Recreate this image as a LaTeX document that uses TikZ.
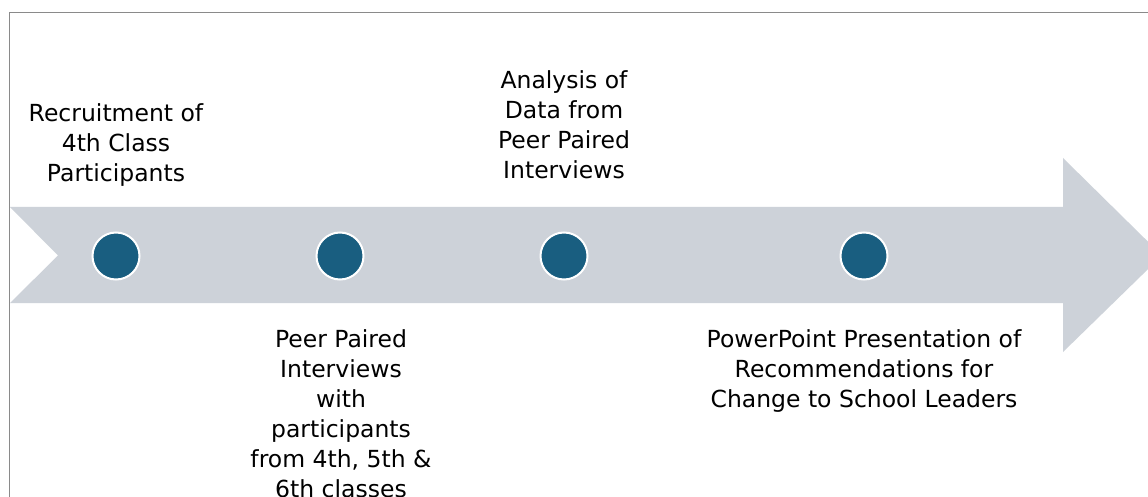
\documentclass[tikz,border=0pt]{standalone}
\usepackage{fontspec}
\setmainfont{DejaVu Sans}
\definecolor{band}{HTML}{CDD2D9}
\definecolor{dot}{HTML}{195E80}
\definecolor{frame}{HTML}{8A8A8A}
\begin{document}
\begin{tikzpicture}[x=1pt,y=-1pt,
  milestone/.style={circle,fill=dot,draw=white,line width=2pt,minimum size=47pt,inner sep=0pt},
  label/.style={align=center,inner sep=0pt,anchor=north,text=black,font=\fontsize{23.5}{30}\selectfont}]
\useasboundingbox (0,0) rectangle (1148,497);
\clip (0,0) rectangle (1148,497);
\fill[white] (0,0) rectangle (1148,497);
\draw[frame,line width=1.3pt] (9.5,520) -- (9.5,12.5) -- (1170,12.5);
\fill[band] (10,207) -- (1063,207) -- (1063,158) -- (1162,255.5) -- (1063,352) -- (1063,303) -- (10,303) -- (58,255.5) -- cycle;
\node[milestone] (c1) at (116,256) {};
\node[milestone] (c2) at (340,256) {};
\node[milestone] (c3) at (564,256) {};
\node[milestone] (c4) at (864,256) {};
\node[label] (t1) at (116,100) {\strut Recruitment of\\4th Class\\Participants};
\node[label] (t2) at (564,67) {\strut Analysis of\\Data from\\Peer Paired\\Interviews};
\node[label] (t3) at (341,326) {\strut Peer Paired\\Interviews\\with\\participants\\from 4th, 5th \&\\6th classes};
\node[label] (t4) at (864,326) {\strut PowerPoint Presentation of\\Recommendations for\\Change to School Leaders};
\end{tikzpicture}
\end{document}
